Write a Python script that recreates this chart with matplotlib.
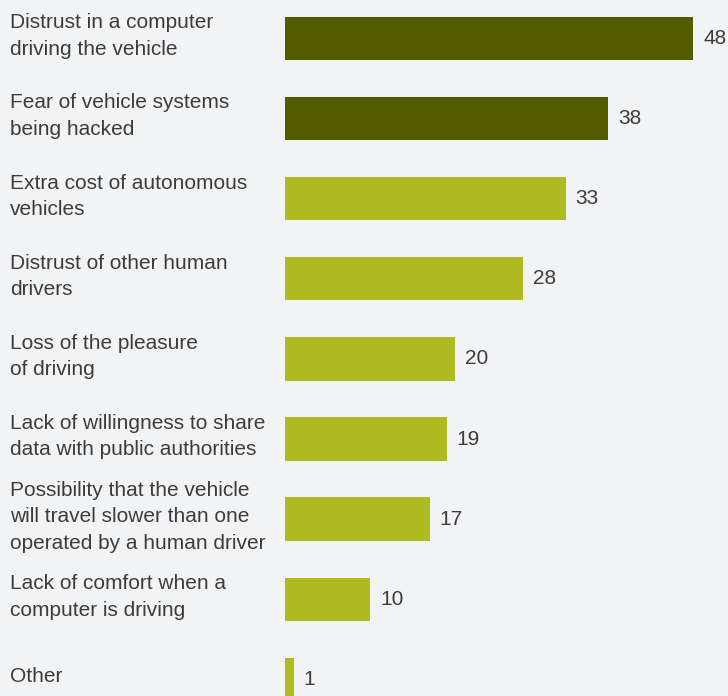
import matplotlib.pyplot as plt
from matplotlib import transforms

categories = [
    "Distrust in a computer\ndriving the vehicle",
    "Fear of vehicle systems\nbeing hacked",
    "Extra cost of autonomous\nvehicles",
    "Distrust of other human\ndrivers",
    "Loss of the pleasure\nof driving",
    "Lack of willingness to share\ndata with public authorities",
    "Possibility that the vehicle\nwill travel slower than one\noperated by a human driver",
    "Lack of comfort when a\ncomputer is driving",
    "Other",
]
values = [48, 38, 33, 28, 20, 19, 17, 10, 1]
dark = "#545c00"
light = "#b0bb21"
colors = [dark, dark] + [light] * 7

bg = "#f2f3f5"
txt = "#3c3c3c"

fig = plt.figure(figsize=(7.28, 6.96), dpi=100, facecolor=bg)
ax = fig.add_axes([285 / 728, 0, 425 / 728, 1])
ax.set_facecolor(bg)

ypos = list(range(len(values)))
ax.barh(ypos, values, height=0.54, color=colors)
ax.set_xlim(0, 50)
ax.set_ylim(8.208, -0.48)
ax.axis("off")

for y, v in zip(ypos, values):
    ax.text(v + 1.2, y, str(v), va="center", ha="left", fontsize=15,
            color=txt, family="Liberation Sans")

trans = transforms.blended_transform_factory(fig.transFigure, ax.transData)
for y, lab in zip(ypos, categories):
    ax.text(10 / 728, y - 0.03, lab, transform=trans, va="center", ha="left",
            fontsize=15, color=txt, family="Liberation Sans", linespacing=1.5)

fig.savefig("out.png", dpi=100, facecolor=bg)
